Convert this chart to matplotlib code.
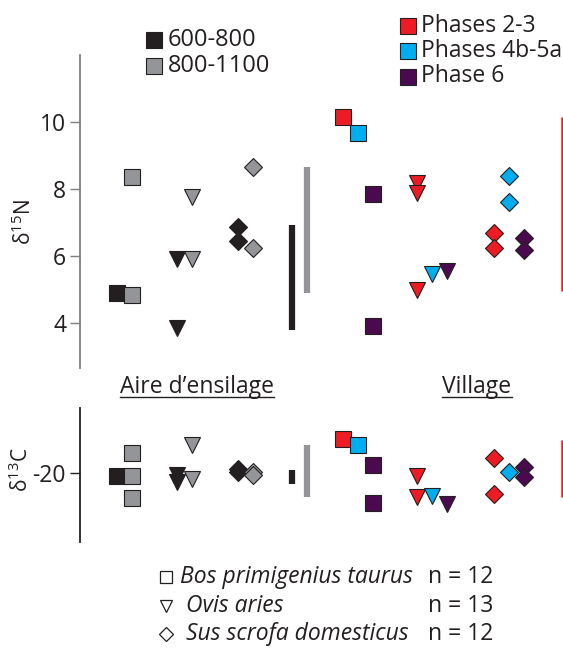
import matplotlib
matplotlib.use("Agg")
import matplotlib.pyplot as plt
from matplotlib.ticker import FuncFormatter

plt.rcParams['font.family'] = ['Open Sans', 'DejaVu Sans']
plt.rcParams['mathtext.fontset'] = 'custom'
plt.rcParams['mathtext.rm'] = 'Open Sans'
plt.rcParams['mathtext.it'] = 'Open Sans:italic'
plt.rcParams['axes.unicode_minus'] = False

# ---------------- data ----------------
species = ["Bos primigenius taurus", "Ovis aries", "Sus scrofa domesticus"]
species_n = ["n = 12", "n = 13", "n = 12"]
species_markers = ["s", "v", "D"]

aire_periods = ["600-800", "800-1100"]
village_phases = ["Phases 2-3", "Phases 4b-5a", "Phase 6"]

# delta15N, Aire d'ensilage  [species][period]
aire_N = [
    [[4.9], [8.36, 4.85]],
    [[5.9, 3.85], [7.77, 5.9]],
    [[6.87, 6.45], [8.66, 6.24]],
]
# delta13C, Aire d'ensilage
aire_C = [
    [[-20.12], [-19.2, -20.12, -21.0]],
    [[-20.08, -20.36], [-18.88, -20.24]],
    [[-19.84, -19.96], [-19.96, -20.08]],
]
# delta15N, Village [species][phase]
village_N = [
    [[10.15], [9.67], [7.85, 3.9]],
    [[8.18, 7.88, 5.0], [5.46], [5.55]],
    [[6.69, 6.24], [8.4, 7.62], [6.54, 6.18]],
]
# delta13C, Village
village_C = [
    [[-18.64], [-18.88], [-19.68, -21.2]],
    [[-20.12, -20.96], [-20.92], [-21.24]],
    [[-19.4, -20.84], [-19.96], [-19.76, -20.16]],
]
# ranges shown as vertical bars
aire_range_N = [[3.8, 6.93], [4.9, 8.66]]
aire_range_C = [[-20.44, -19.88], [-20.96, -18.88]]
village_range_N = [4.96, 10.15]
village_range_C = [-20.96, -18.68]

# ---------------- styles ----------------
period_colors = ["#231f20", "#939598"]
phase_colors = ["#ed1c24", "#00aeef", "#4b0a4f"]
edge = "#231f20"
msize = {"s": 11, "v": 11.5, "D": 9.2}
FS = 16.5

W, H = 563, 651
fig = plt.figure(figsize=(W / 100, H / 100), dpi=100)

def px_axes(left, top, right, bottom):
    return fig.add_axes([left / W, 1 - bottom / H, (right - left) / W, (bottom - top) / H])

ax1 = px_axes(80, 55, 563, 368)
ax2 = px_axes(80, 408, 563, 542)
ax1.set_ylim(2.66, 12.0)
ax2.set_ylim(-22.76, -17.4)

aire_centers = [124.5, 184.5, 245.5]
aire_offsets = [-7.5, 7.5]
aire_bar_x = [292, 307]
village_centers = [358, 432, 509]
village_offsets = [-15, 0, 15]
village_line_x = 562

for ax, aire, vil, arange, vrange, spcol in [
    (ax1, aire_N, village_N, aire_range_N, village_range_N, "#7f7f7f"),
    (ax2, aire_C, village_C, aire_range_C, village_range_C, "#231f20"),
]:
    ax.set_xlim(80, 563)
    for s, mk in enumerate(species_markers):
        for p, col in enumerate(period_colors):
            vals = aire[s][p]
            ax.plot([aire_centers[s] + aire_offsets[p]] * len(vals), vals, ls="none",
                    marker=mk, ms=msize[mk], mfc=col, mec=edge, mew=0.8, clip_on=False, zorder=3)
        for p, col in enumerate(phase_colors):
            vals = vil[s][p]
            ax.plot([village_centers[s] + village_offsets[p]] * len(vals), vals, ls="none",
                    marker=mk, ms=msize[mk], mfc=col, mec=edge, mew=0.8, clip_on=False, zorder=3)
    for p, col in enumerate(period_colors):
        ax.vlines(aire_bar_x[p], arange[p][0], arange[p][1], colors=col, lw=4.5)
    ax.vlines(village_line_x, vrange[0], vrange[1], colors="#ed1c24", lw=1.8, clip_on=False)
    for sp in ["top", "right", "bottom"]:
        ax.spines[sp].set_visible(False)
    ax.spines["left"].set_color(spcol)
    ax.spines["left"].set_linewidth(1.3)
    ax.tick_params(axis="y", direction="out", length=7, width=1.0, color=spcol,
                   labelsize=FS, labelcolor="#231f20", pad=3)
    ax.set_xticks([])
    ax.patch.set_visible(False)
    ax.yaxis.set_major_formatter(FuncFormatter(lambda v, pos: "%d" % v))

ax1.set_yticks([4, 6, 8, 10])
ax2.set_yticks([-20])

# overlay in pixel coordinates for texts & legends
ov = fig.add_axes([0, 0, 1, 1])
ov.set_xlim(0, W)
ov.set_ylim(H, 0)
ov.axis("off")
ov.patch.set_visible(False)

ov.text(24, 222, r"δ$^{15}$N", rotation=90, ha="center", va="center", fontsize=15, color="#231f20")
ov.text(21, 470, r"δ$^{13}$C", rotation=90, ha="center", va="center", fontsize=15, color="#231f20")

# period legend
for i, (lab, col) in enumerate(zip(aire_periods, period_colors)):
    y = 39.5 + i * 26.5
    ov.plot([154], [y], marker="s", ms=11.5, mfc=col, mec=edge, mew=0.8, ls="none")
    ov.text(168, y, lab, ha="left", va="center", fontsize=FS + 0.5, color="#231f20")

# phase legend
for i, (lab, col) in enumerate(zip(village_phases, phase_colors)):
    y = 25.5 + i * 25.5
    ov.plot([407.5], [y], marker="s", ms=11.5, mfc=col, mec=edge, mew=0.8, ls="none")
    ov.text(421, y, lab, ha="left", va="center", fontsize=FS, color="#231f20")

# group titles (underlined)
titles = []
titles.append(ov.text(197, 393, "Aire d’ensilage", ha="center", va="baseline", fontsize=FS, color="#231f20"))
titles.append(ov.text(477, 393, "Village", ha="center", va="baseline", fontsize=FS, color="#231f20"))

# species legend
sp_ms = {"s": 8.2, "v": 8.5, "D": 7.6}
for i, (name, n, mk) in enumerate(zip(species, species_n, species_markers)):
    y = 577 + i * 28.5
    ov.plot([166], [y], marker=mk, ms=sp_ms[mk], mfc="white", mec="#231f20", mew=0.9, ls="none")
    ov.text(180 if i == 0 else 186, y, name, ha="left", va="center", fontsize=FS,
            style="italic", color="#231f20")
    ov.text(493, y, n, ha="right", va="center", fontsize=FS, color="#231f20")

fig.canvas.draw()
r = fig.canvas.get_renderer()
for t in titles:
    bb = t.get_window_extent(renderer=r)
    x0, x1 = bb.x0, bb.x1
    ov.plot([x0, x1], [397, 397], color="#231f20", lw=1.0)

fig.savefig("out.png", dpi=100)
